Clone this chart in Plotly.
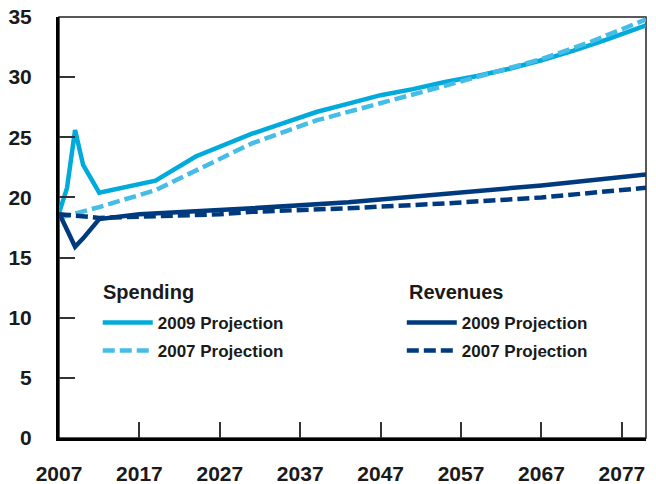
import plotly.graph_objects as go

# Spending, 2009 projection (percent of GDP)
sp09_years = [2007, 2008, 2009, 2010, 2012, 2015, 2019, 2024, 2027, 2031, 2035, 2039,
              2043, 2047, 2051, 2055, 2059, 2063, 2067, 2071, 2075, 2080]
sp09_vals = [18.7, 20.8, 25.6, 22.7, 20.4, 20.8, 21.4, 23.4, 24.2, 25.3, 26.2, 27.1,
             27.8, 28.5, 29.0, 29.6, 30.1, 30.7, 31.4, 32.2, 33.1, 34.3]

# Spending, 2007 projection
sp07_years = [2007, 2012, 2019, 2025, 2031, 2039, 2047, 2054, 2060, 2067, 2073, 2080]
sp07_vals = [18.3, 19.2, 20.6, 22.5, 24.5, 26.4, 27.8, 29.1, 30.2, 31.5, 32.9, 34.8]

# Revenues, 2009 projection
rv09_years = [2007, 2009, 2010, 2012, 2017, 2027, 2031, 2043, 2055, 2067, 2080]
rv09_vals = [18.7, 15.9, 16.6, 18.2, 18.6, 18.9, 19.1, 19.6, 20.3, 21.0, 21.9]

# Revenues, 2007 projection
rv07_years = [2007, 2012, 2017, 2027, 2031, 2043, 2055, 2067, 2080]
rv07_vals = [18.6, 18.3, 18.4, 18.6, 18.8, 19.1, 19.5, 20.0, 20.8]

x_ticks = [2007, 2017, 2027, 2037, 2047, 2057, 2067, 2077]
y_ticks = [0, 5, 10, 15, 20, 25, 30, 35]
group_titles = ["Spending", "Revenues"]

LIGHT = "#00AADA"
LIGHT_D = "#45BDE6"
NAVY = "#003A7E"
FONT = "Liberation Sans"
TXT = "#1a1a1a"
DASH = "12px,5px"

fig = go.Figure()
fig.add_trace(go.Scatter(x=sp09_years, y=sp09_vals, mode="lines", name="2009 Projection",
                         line=dict(color=LIGHT, width=4.5), legend="legend", legendgroup="a"))
fig.add_trace(go.Scatter(x=sp07_years, y=sp07_vals, mode="lines", name="2007 Projection",
                         line=dict(color=LIGHT_D, width=4.5, dash=DASH),
                         legend="legend", legendgroup="b"))
fig.add_trace(go.Scatter(x=rv09_years, y=rv09_vals, mode="lines", name="2009 Projection",
                         line=dict(color=NAVY, width=4.5), legend="legend2", legendgroup="c"))
fig.add_trace(go.Scatter(x=rv07_years, y=rv07_vals, mode="lines", name="2007 Projection",
                         line=dict(color=NAVY, width=4.5, dash=DASH),
                         legend="legend2", legendgroup="d"))

legend_common = dict(
    xanchor="left", yanchor="top", bgcolor="rgba(0,0,0,0)",
    font=dict(family=FONT, size=17, color=TXT, weight="bold"),
    itemwidth=50, tracegroupgap=3, traceorder="grouped",
)
fig.update_layout(
    width=656, height=484,
    margin=dict(l=59, r=10, t=17, b=46),
    paper_bgcolor="white", plot_bgcolor="white",
    showlegend=True,
    legend=dict(x=0.066, y=0.316, **legend_common),
    legend2=dict(x=0.584, y=0.316, **legend_common),
    xaxis=dict(range=[2007, 2080], tickvals=x_ticks, ticktext=[str(v) for v in x_ticks],
               showgrid=False, zeroline=False, showline=True, linewidth=3, linecolor="black",
               ticks="inside", ticklen=16, tickwidth=1.5, tickcolor="#333",
               ticklabelstandoff=15, automargin=False, ticklabeloverflow="allow",
               tickfont=dict(family=FONT, size=21, color=TXT, weight="bold")),
    yaxis=dict(range=[0, 35], tickvals=y_ticks, showgrid=False, zeroline=False,
               showline=True, linewidth=3, linecolor="black",
               ticks="inside", ticklen=16, tickwidth=1.5, tickcolor="#333",
               ticklabelstandoff=20, automargin=False, ticklabeloverflow="allow",
               tickfont=dict(family=FONT, size=21, color=TXT, weight="bold")),
    shapes=[dict(type="rect", xref="paper", yref="paper", x0=0, x1=1, y0=0, y1=1,
                 line=dict(color="#222", width=1.5), layer="below")],
    annotations=[
        dict(text=group_titles[0], xref="paper", yref="paper", x=0.0716, y=0.3468,
             xanchor="left", yanchor="middle", showarrow=False,
             font=dict(family=FONT, size=20, color=TXT, weight="bold")),
        dict(text=group_titles[1], xref="paper", yref="paper", x=0.593, y=0.3468,
             xanchor="left", yanchor="middle", showarrow=False,
             font=dict(family=FONT, size=20, color=TXT, weight="bold")),
    ],
)

fig.write_html("out.html", config={"displayModeBar": False},
               post_script="document.body.style.margin='0';")
